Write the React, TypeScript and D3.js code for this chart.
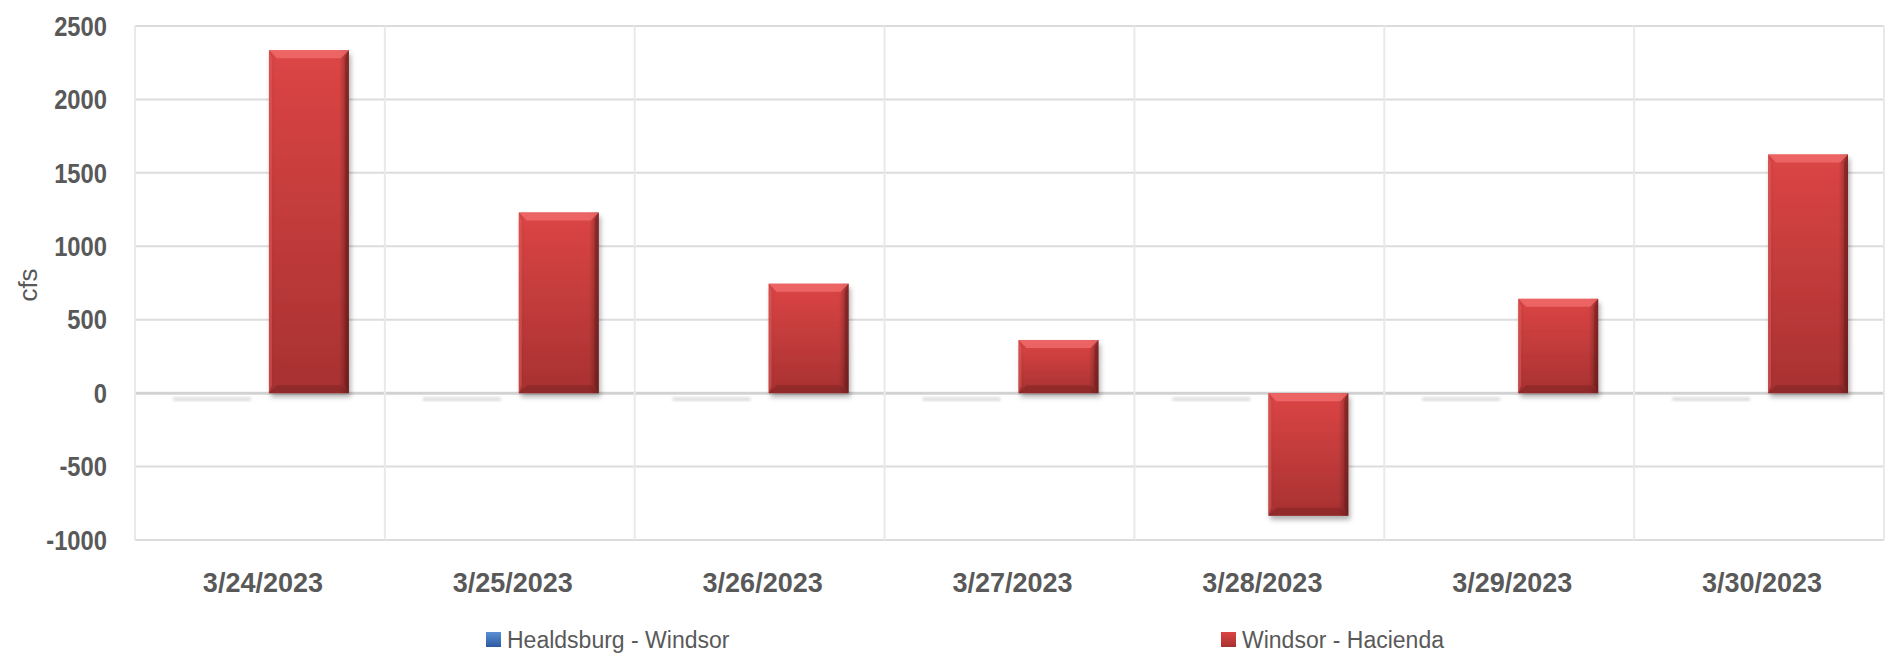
import React, { useRef, useEffect } from "react";
import * as d3 from "d3";

const categories = [
  "3/24/2023",
  "3/25/2023",
  "3/26/2023",
  "3/27/2023",
  "3/28/2023",
  "3/29/2023",
  "3/30/2023",
];
const seriesNames = ["Healdsburg - Windsor", "Windsor - Hacienda"];
const healdsburgWindsor = [0, 0, 0, 0, 0, 0, 0];
const windsorHacienda = [2335, 1230, 745, 362, -835, 642, 1625];
const yTicks = [-1000, -500, 0, 500, 1000, 1500, 2000, 2500];

const WIDTH = 1898;
const HEIGHT = 660;

export default function App() {
  const svgRef = useRef<SVGSVGElement>(null);

  useEffect(() => {
    if (!svgRef.current) return;
    const svg = d3.select(svgRef.current);
    svg.selectAll("*").remove();

    const margin = { left: 135, right: 14, top: 26, bottom: 120 };
    const plotW = WIDTH - margin.left - margin.right;
    const plotH = HEIGHT - margin.top - margin.bottom;
    const textColor = "#595959";
    const font = "'Liberation Sans', Arial, sans-serif";

    const defs = svg.append("defs");
    const redGrad = defs
      .append("linearGradient")
      .attr("id", "redV")
      .attr("x1", 0)
      .attr("y1", 0)
      .attr("x2", 0)
      .attr("y2", 1);
    redGrad.append("stop").attr("offset", "0%").attr("stop-color", "#dc4545");
    redGrad.append("stop").attr("offset", "100%").attr("stop-color", "#a83131");

    const edgeGrad = defs
      .append("linearGradient")
      .attr("id", "redH")
      .attr("x1", 0)
      .attr("y1", 0)
      .attr("x2", 1)
      .attr("y2", 0);
    edgeGrad.append("stop").attr("offset", "0%").attr("stop-color", "#000").attr("stop-opacity", 0.08);
    edgeGrad.append("stop").attr("offset", "8%").attr("stop-color", "#000").attr("stop-opacity", 0);
    edgeGrad.append("stop").attr("offset", "88%").attr("stop-color", "#000").attr("stop-opacity", 0);
    edgeGrad.append("stop").attr("offset", "100%").attr("stop-color", "#000").attr("stop-opacity", 0.35);

    const blueGrad = defs
      .append("linearGradient")
      .attr("id", "blueV")
      .attr("x1", 0)
      .attr("y1", 0)
      .attr("x2", 0)
      .attr("y2", 1);
    blueGrad.append("stop").attr("offset", "0%").attr("stop-color", "#5b8fd6");
    blueGrad.append("stop").attr("offset", "100%").attr("stop-color", "#2c5aa0");

    const shadow = defs
      .append("filter")
      .attr("id", "shadow")
      .attr("x", "-20%")
      .attr("y", "-20%")
      .attr("width", "140%")
      .attr("height", "140%");
    shadow
      .append("feDropShadow")
      .attr("dx", 2)
      .attr("dy", 4)
      .attr("stdDeviation", 2.5)
      .attr("flood-color", "#000")
      .attr("flood-opacity", 0.3);

    const blur = defs.append("filter").attr("id", "blur");
    blur.append("feGaussianBlur").attr("stdDeviation", 1.5);

    const g = svg
      .append("g")
      .attr("transform", `translate(${margin.left},${margin.top})`);

    const x0 = d3
      .scaleBand<string>()
      .domain(categories)
      .range([0, plotW])
      .paddingInner(0.288)
      .paddingOuter(0.144);

    const x1 = d3
      .scaleBand<string>()
      .domain(seriesNames)
      .range([0, x0.bandwidth()])
      .paddingInner(0.184);

    const y = d3.scaleLinear().domain([-1000, 2500]).range([plotH, 0]);

    // horizontal gridlines
    g.selectAll(".hgrid")
      .data(yTicks)
      .join("line")
      .attr("x1", 0)
      .attr("x2", plotW)
      .attr("y1", (d) => y(d))
      .attr("y2", (d) => y(d))
      .attr("stroke", (d) => (d === 0 ? "#d2d2d2" : "#dcdcdc"))
      .attr("stroke-width", (d) => (d === 0 ? 3 : 2));

    // vertical gridlines at category boundaries
    const step = x0.step();
    const boundaries = d3.range(categories.length + 1).map((i) => i * step);
    g.selectAll(".vgrid")
      .data(boundaries)
      .join("line")
      .attr("x1", (d) => d)
      .attr("x2", (d) => d)
      .attr("y1", 0)
      .attr("y2", plotH)
      .attr("stroke", "#e9e9e9")
      .attr("stroke-width", 2);

    // y tick labels (narrowed to mimic a condensed face)
    g.selectAll(".ylab")
      .data(yTicks)
      .join("text")
      .attr("transform", (d) => `translate(-28,${y(d)}) scale(0.88,1)`)
      .attr("dy", "0.36em")
      .attr("text-anchor", "end")
      .attr("font-family", font)
      .attr("font-weight", "bold")
      .attr("font-size", 27)
      .attr("fill", textColor)
      .text((d) => String(d));

    // y axis title
    svg
      .append("text")
      .attr("transform", `translate(37,285) rotate(-90)`)
      .attr("text-anchor", "middle")
      .attr("font-family", font)
      .attr("font-size", 26)
      .attr("fill", textColor)
      .text("cfs");

    // x labels
    g.selectAll(".xlab")
      .data(categories)
      .join("text")
      .attr("x", (d) => (x0(d) ?? 0) + x0.bandwidth() / 2 + 3)
      .attr("y", 582 - margin.top)
      .attr("dy", "0.36em")
      .attr("text-anchor", "middle")
      .attr("font-family", font)
      .attr("font-weight", "bold")
      .attr("font-size", 27)
      .attr("fill", textColor)
      .text((d) => d);

    // Healdsburg - Windsor bars (zero values show only as a faint shadow)
    const blueData = categories.map((c, i) => ({ c, v: healdsburgWindsor[i] }));
    const blueG = g.append("g");
    blueData.forEach((d) => {
      const bx = (x0(d.c) ?? 0) + (x1(seriesNames[0]) ?? 0);
      const top = Math.min(y(d.v), y(0));
      const h = Math.abs(y(d.v) - y(0));
      blueG
        .append("rect")
        .attr("x", bx + 2)
        .attr("y", top + h + 4)
        .attr("width", x1.bandwidth() - 2)
        .attr("height", 4)
        .attr("fill", "#c8c8c8")
        .attr("opacity", 0.6)
        .attr("filter", "url(#blur)");
      if (h > 0) {
        blueG
          .append("rect")
          .attr("x", bx)
          .attr("y", top)
          .attr("width", x1.bandwidth())
          .attr("height", h)
          .attr("fill", "url(#blueV)");
      }
    });

    // Windsor - Hacienda bars
    const redData = categories.map((c, i) => ({ c, v: windsorHacienda[i] }));
    const redG = g
      .selectAll(".red")
      .data(redData)
      .join("g")
      .attr("transform", (d) => {
        const bx = (x0(d.c) ?? 0) + (x1(seriesNames[1]) ?? 0);
        return `translate(${bx},${Math.min(y(d.v), y(0))})`;
      });
    const bw = x1.bandwidth();
    const bh = (d: { v: number }) => Math.abs(y(d.v) - y(0));
    redG
      .append("rect")
      .attr("width", bw)
      .attr("height", bh)
      .attr("fill", "url(#redV)")
      .attr("filter", "url(#shadow)");
    redG
      .append("rect")
      .attr("width", bw)
      .attr("height", bh)
      .attr("fill", "url(#redH)");
    const bev = 8;
    // top bevel
    redG
      .append("path")
      .attr("d", `M0,0 L${bw},0 L${bw - bev},${bev} L${bev},${bev} Z`)
      .attr("fill", "#ee6a6a")
      .attr("opacity", 0.85);
    // bottom bevel
    redG
      .append("path")
      .attr("d", (d) => {
        const h = bh(d);
        return `M0,${h} L${bw},${h} L${bw - bev},${h - bev} L${bev},${h - bev} Z`;
      })
      .attr("fill", "#7a2222")
      .attr("opacity", 0.5);
    // right bevel
    redG
      .append("path")
      .attr("d", (d) => {
        const h = bh(d);
        return `M${bw},0 L${bw},${h} L${bw - 4},${h - bev} L${bw - 4},${bev} Z`;
      })
      .attr("fill", "#6e1c1c")
      .attr("opacity", 0.45);
    // left highlight
    redG
      .append("path")
      .attr("d", (d) => {
        const h = bh(d);
        return `M0,0 L0,${h} L3,${h - bev} L3,${bev} Z`;
      })
      .attr("fill", "#e86060")
      .attr("opacity", 0.5);

    // legend
    const legend = svg.append("g");
    const legendItems = [
      { name: seriesNames[0], x: 486, fill: "url(#blueV)" },
      { name: seriesNames[1], x: 1221, fill: "url(#redV)" },
    ];
    legendItems.forEach((it) => {
      legend
        .append("rect")
        .attr("x", it.x)
        .attr("y", 632)
        .attr("width", 15)
        .attr("height", 15)
        .attr("fill", it.fill);
      legend
        .append("text")
        .attr("x", it.x + 21)
        .attr("y", 640)
        .attr("dy", "0.35em")
        .attr("font-family", font)
        .attr("font-size", 23)
        .attr("fill", textColor)
        .text(it.name);
    });
  }, []);

  return (
    <svg
      ref={svgRef}
      width={WIDTH}
      height={HEIGHT}
      style={{ position: "absolute", left: 0, top: 0, background: "#fff" }}
    ></svg>
  );
}
